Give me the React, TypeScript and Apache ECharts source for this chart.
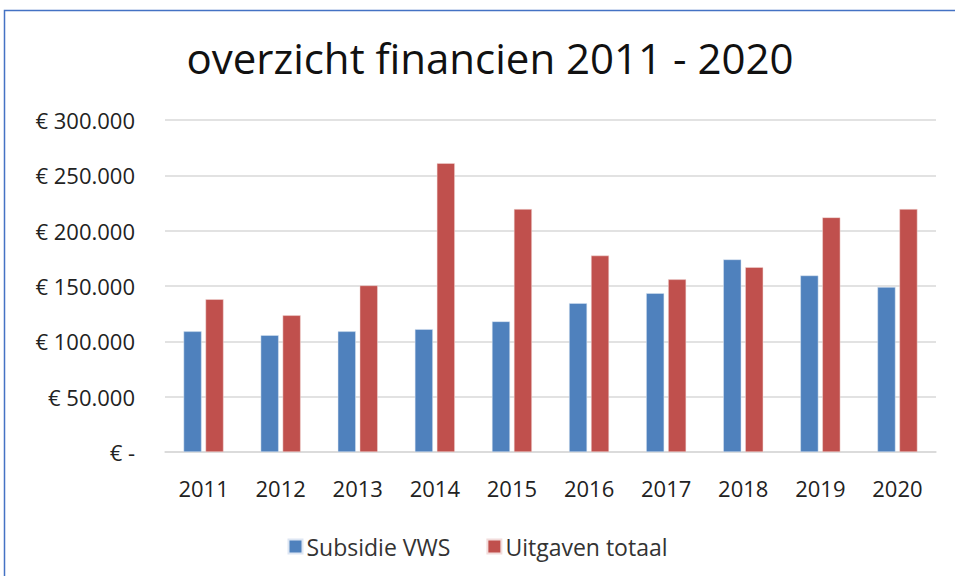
import React, { useEffect, useRef } from "react";
import * as echarts from "echarts";

const categories = ["2011", "2012", "2013", "2014", "2015", "2016", "2017", "2018", "2019", "2020"];
const subsidieVWS = [109000, 105500, 109000, 111000, 118000, 134500, 143500, 174000, 159500, 149000];
const uitgavenTotaal = [138000, 123500, 150500, 261000, 219500, 177500, 156000, 167000, 212000, 219500];
const yTicks = { min: 0, max: 300000, interval: 50000 };

const FONT = "'Open Sans', Lato, sans-serif";

function fmt(v: number): string {
  if (v === 0) return "€ -";
  const s = String(v).replace(/\B(?=(\d{3})+(?!\d))/g, ".");
  return "€ " + s;
}

export default function App() {
  const ref = useRef<HTMLDivElement>(null);
  useEffect(() => {
    if (!ref.current) return;
    const chart = echarts.init(ref.current, undefined, { renderer: "svg" });
    chart.setOption({
      animation: false,
      backgroundColor: "#ffffff",
      title: {
        text: "overzicht financien 2011 - 2020",
        left: 485,
        top: 31,
        textAlign: "center",
        textStyle: { fontFamily: FONT, fontSize: 42, fontWeight: "normal", color: "#111" },
      },
      graphic: [
        {
          type: "rect",
          shape: { x: 4.5, y: 10.5, width: 1000, height: 1000 },
          style: { fill: "none", stroke: "#4472C4", lineWidth: 1.5 },
        },
      ],
      legend: {
        top: 530,
        left: "center",
        itemWidth: 14,
        itemHeight: 14,
        itemGap: 36,
        icon: "rect",
        textStyle: { fontFamily: FONT, fontSize: 23, color: "#333", padding: [0, 0, 0, -1] },
        data: ["Subsidie VWS", "Uitgaven totaal"],
      },
      grid: { left: 165, right: 19, top: 120, bottom: 124 },
      xAxis: {
        type: "category",
        data: categories,
        axisTick: { show: false },
        axisLine: { lineStyle: { color: "#d9d9d9", width: 1.5 } },
        axisLabel: { fontFamily: FONT, fontSize: 22, color: "#222", margin: 25 },
      },
      yAxis: {
        type: "value",
        min: yTicks.min,
        max: yTicks.max,
        interval: yTicks.interval,
        axisLine: { show: false },
        axisTick: { show: false },
        splitLine: { lineStyle: { color: "#d9d9d9", width: 1.5 } },
        axisLabel: { fontFamily: FONT, fontSize: 22, color: "#222", margin: 30, formatter: fmt },
      },
      series: [
        {
          name: "Subsidie VWS",
          type: "bar",
          data: subsidieVWS,
          barWidth: 18,
          barGap: "22%",
          itemStyle: { color: "#4F81BD", borderColor: "#dde6f3", borderWidth: 0.5 },
        },
        {
          name: "Uitgaven totaal",
          type: "bar",
          data: uitgavenTotaal,
          barWidth: 18,
          itemStyle: { color: "#C0504D", borderColor: "#f2dcdb", borderWidth: 0.5 },
        },
      ],
    });
    return () => chart.dispose();
  }, []);
  return (
    <div
      ref={ref}
      style={{ position: "fixed", left: 0, top: 0, width: 955, height: 576 }}
    />
  );
}
